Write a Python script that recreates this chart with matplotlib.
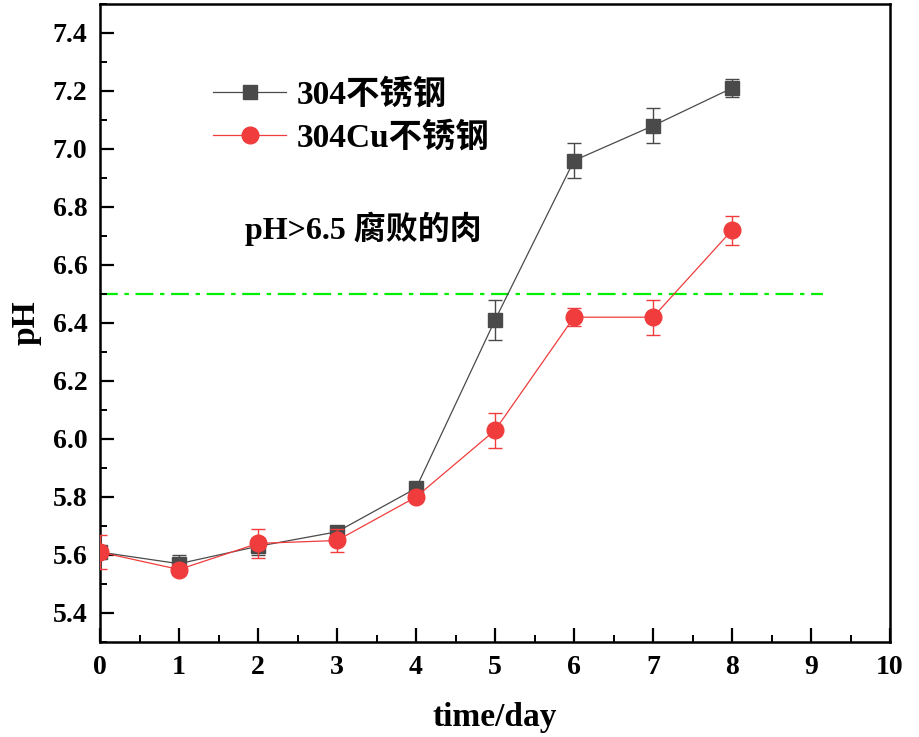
import matplotlib
matplotlib.use("Agg")
import matplotlib.pyplot as plt
from matplotlib.ticker import MultipleLocator, FormatStrFormatter
from matplotlib.lines import Line2D

plt.rcParams['font.family'] = ['Liberation Serif', 'Noto Sans CJK SC']
plt.rcParams['font.weight'] = 'bold'

days = [0, 1, 2, 3, 4, 5, 6, 7, 8]
ph_304 = [5.61, 5.57, 5.63, 5.68, 5.83, 6.41, 6.96, 7.08, 7.21]
err_304 = [0.01, 0.03, 0.03, 0.01, 0.01, 0.07, 0.06, 0.06, 0.03]
ph_304cu = [5.61, 5.55, 5.64, 5.65, 5.80, 6.03, 6.42, 6.42, 6.72]
err_304cu = [0.06, 0.02, 0.05, 0.04, 0.01, 0.06, 0.03, 0.06, 0.05]
threshold = 6.5
threshold_x = [0, 9.15]

labels = ['304不锈钢', '304Cu不锈钢']
note = 'pH>6.5 腐败的肉'

fig = plt.figure(figsize=(9.2, 7.37), dpi=100)
ax = fig.add_axes([100/920, 1 - 642/737, 790/920, 638/737])

gray = '#4a4a4a'
red = '#f03c3c'

ax.plot(threshold_x, [threshold, threshold], color='#00ee00', lw=1.6,
        linestyle=(0, (8, 3, 2, 3)), zorder=1)

ax.errorbar(days, ph_304, yerr=err_304, color=gray, lw=0.9, marker='s',
            markersize=10, markerfacecolor=gray, markeredgecolor=gray,
            ecolor=gray, elinewidth=1.0, capsize=5, capthick=1.0, zorder=3)
ax.errorbar(days, ph_304cu, yerr=err_304cu, color=red, lw=0.9, marker='o',
            markersize=12, markerfacecolor=red, markeredgecolor=red,
            ecolor=red, elinewidth=1.0, capsize=5, capthick=1.0, zorder=4)

ax.set_xlim(0, 10)
ax.set_ylim(5.3, 7.5)
ax.xaxis.set_major_locator(MultipleLocator(1))
ax.xaxis.set_minor_locator(MultipleLocator(0.5))
ax.yaxis.set_major_locator(MultipleLocator(0.2))
ax.yaxis.set_minor_locator(MultipleLocator(0.1))
ax.yaxis.set_major_formatter(FormatStrFormatter('%.1f'))
ax.tick_params(which='major', direction='in', length=10, width=1.6,
               labelsize=20, pad=9)
ax.tick_params(which='minor', direction='in', length=5, width=1.4)
for lab in ax.get_xticklabels() + ax.get_yticklabels():
    lab.set_fontweight('bold')
for sp in ax.spines.values():
    sp.set_linewidth(1.8)

ax.set_xlabel('time/day', fontsize=24, fontweight='bold', labelpad=16)
ax.set_ylabel('pH', fontsize=24, fontweight='bold', labelpad=8)

handles = [
    Line2D([], [], color=gray, lw=0.9, marker='s', markersize=10,
           markerfacecolor=gray, markeredgecolor=gray),
    Line2D([], [], color=red, lw=0.9, marker='o', markersize=12,
           markerfacecolor=red, markeredgecolor=red),
]
ax.legend(handles, labels, loc='upper left', bbox_to_anchor=(0.143, 0.883),
          frameon=False, prop={'size': 24, 'weight': 'bold'},
          handlelength=2.2, handletextpad=0.3, labelspacing=0.35,
          borderaxespad=0, borderpad=0)

ax.text(0.183, 0.647, note, transform=ax.transAxes, fontsize=23,
        fontweight='bold', ha='left', va='center')

fig.savefig('out.png', dpi=100)
